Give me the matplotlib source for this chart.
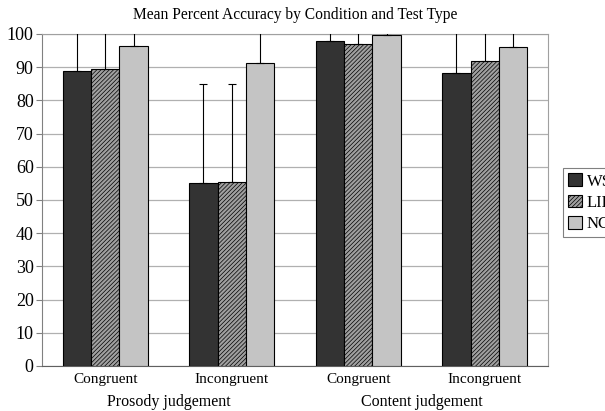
import numpy as np
import matplotlib
matplotlib.use("Agg")
import matplotlib.pyplot as plt

plt.rcParams['font.family'] = ['Liberation Serif', 'DejaVu Serif']
plt.rcParams['hatch.linewidth'] = 0.5

categories = ["Congruent", "Incongruent", "Congruent", "Incongruent"]
test_types = ["Prosody judgement", "Content judgement"]
groups = ["WS", "LID", "NC"]

ws = [89.0, 55.0, 98.0, 88.3]
lid = [89.6, 55.5, 97.0, 91.9]
nc = [96.5, 91.3, 99.7, 96.2]

ws_err = [14.0, 30.0, 6.0, 15.0]
lid_err = [14.0, 29.5, 6.0, 12.0]
nc_err = [6.0, 12.0, 3.0, 6.0]

fig = plt.figure(figsize=(6.05, 4.11), dpi=100)
ax = fig.add_axes([0.0694, 0.1095, 0.8364, 0.8078])

x = np.arange(len(categories))
w = 0.225
styles = [
    dict(color="#333333", hatch=None),
    dict(color="#a0a0a0", hatch="////////"),
    dict(color="#c4c4c4", hatch=None),
]
for i, (vals, errs, name, st) in enumerate(zip([ws, lid, nc], [ws_err, lid_err, nc_err], groups, styles)):
    pos = x + (i - 1) * w
    ax.bar(pos, vals, w, color=st["color"], edgecolor="black", linewidth=0.8,
           hatch=st["hatch"], label=name, zorder=3)
    ax.errorbar(pos, vals, yerr=[np.zeros(len(vals)), errs], fmt="none",
                ecolor="black", elinewidth=0.8, capsize=3, capthick=0.8, zorder=4)

ax.set_ylim(0, 100)
ax.set_xlim(-0.5, 3.5)
ax.set_yticks(range(0, 101, 10))
ax.yaxis.grid(True, color="#b0b0b0", linewidth=0.9, zorder=0)
ax.set_xticks(x)
ax.set_xticklabels(categories, fontsize=11)
ax.tick_params(axis="y", labelsize=13, length=4, color="#808080", pad=2)
ax.tick_params(axis="x", length=0, pad=5)
for s in ["top", "right"]:
    ax.spines[s].set_color("#a0a0a0")
ax.spines["left"].set_color("#808080")
ax.spines["bottom"].set_color("#606060")

for j, t in enumerate(test_types):
    ax.text(2 * j + 0.5, -0.108, t, transform=ax.get_xaxis_transform(),
            ha="center", va="center", fontsize=11.5)

ax.set_title("Mean Percent Accuracy by Condition and Test Type", fontsize=11.2, pad=11)

leg = ax.legend(loc="upper left", bbox_to_anchor=(1.03, 0.595), fontsize=12,
                frameon=True, fancybox=False, edgecolor="#606060",
                handlelength=0.8, handleheight=0.8, handletextpad=0.3,
                borderpad=0.3, labelspacing=0.3, borderaxespad=0)
leg.get_frame().set_linewidth(0.8)

fig.savefig("out.png", dpi=100)
